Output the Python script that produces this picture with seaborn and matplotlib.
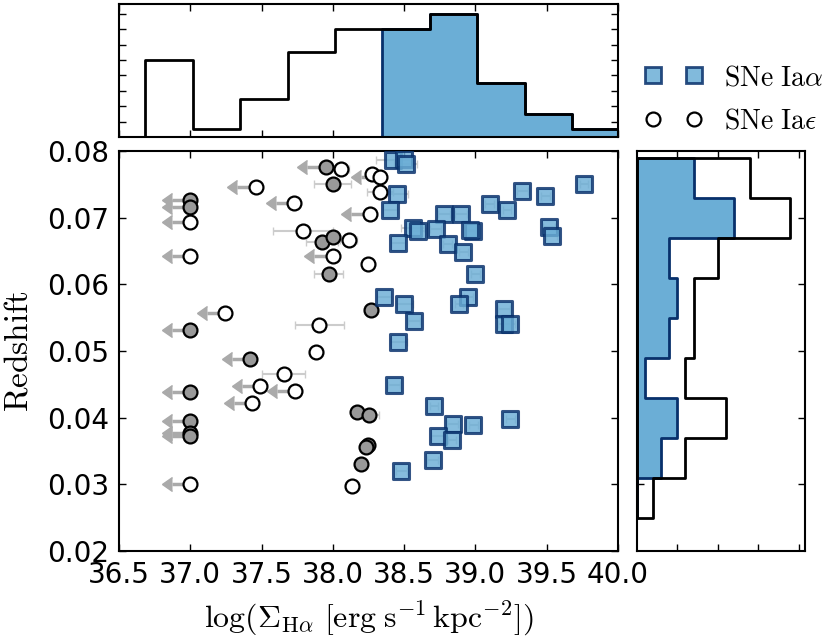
import numpy as np
import pandas as pd
import matplotlib
matplotlib.use("Agg")
import matplotlib.pyplot as plt
from matplotlib.lines import Line2D
from matplotlib.ticker import FormatStrFormatter
import seaborn as sns

# SNe Ia-alpha (squares): log Sigma_Halpha, redshift, x error
alpha_logsig = [38.42, 38.50, 38.51, 38.45, 38.40, 38.78, 38.90, 39.10, 39.22, 39.33,
                39.49, 39.76, 39.515, 39.535, 38.56, 38.60, 38.72, 38.98, 38.96, 38.455,
                38.805, 38.915, 39.00, 38.357, 38.50, 38.57, 38.95, 38.885, 39.20, 39.20,
                39.24, 38.46, 38.43, 38.71, 38.84, 38.985, 38.735, 38.835, 39.245, 38.70,
                38.48]
alpha_z = [0.0786, 0.0788, 0.0781, 0.0735, 0.0711, 0.0705, 0.0705, 0.0720, 0.0712, 0.0740,
           0.0732, 0.0751, 0.0686, 0.0672, 0.0685, 0.0680, 0.0683, 0.0680, 0.0681, 0.0662,
           0.0660, 0.0648, 0.0615, 0.0581, 0.0570, 0.0545, 0.0581, 0.0570, 0.0563, 0.0541,
           0.0541, 0.0513, 0.0449, 0.0417, 0.0390, 0.0389, 0.0373, 0.0367, 0.0398, 0.0336,
           0.0320]
alpha_xerr = [0.12, 0.06, 0.08, 0.08, 0.05, 0.04, 0.04, 0.03, 0.03, 0.04,
              0.03, 0.03, 0.04, 0.04, 0.08, 0.05, 0.04, 0.04, 0.04, 0.05,
              0.03, 0.03, 0.03, 0.05, 0.06, 0.04, 0.03, 0.03, 0.04, 0.04,
              0.04, 0.06, 0.04, 0.03, 0.04, 0.03, 0.05, 0.03, 0.03, 0.04,
              0.04]

# SNe Ia-epsilon (circles)
eps_logsig = [37.95, 38.06, 38.275, 38.33, 38.00, 37.46, 37.00, 37.00, 37.00, 37.73,
              38.26, 38.33, 37.79, 37.925, 38.00, 38.11, 38.00, 37.97, 37.00, 38.245,
              38.265, 37.245, 37.00, 37.905, 37.88, 37.42, 37.655, 37.49, 37.735, 37.435,
              37.00, 37.00, 37.00, 37.00, 37.00, 38.17, 38.255, 38.245, 38.235, 38.195,
              38.135]
eps_z = [0.0776, 0.0773, 0.0766, 0.0761, 0.0750, 0.0746, 0.0727, 0.0716, 0.0693, 0.0722,
         0.0705, 0.0739, 0.0680, 0.0664, 0.0671, 0.0666, 0.0642, 0.0615, 0.0642, 0.0630,
         0.0561, 0.0557, 0.0531, 0.0539, 0.0499, 0.0488, 0.0465, 0.0447, 0.0440, 0.0422,
         0.0439, 0.0395, 0.0377, 0.0373, 0.0301, 0.0408, 0.0404, 0.0359, 0.0356, 0.0330,
         0.0297]
eps_xerr = [0, 0.05, 0, 0, 0.13, 0, 0, 0, 0, 0,
            0, 0.09, 0.21, 0.11, 0.05, 0.06, 0, 0.10, 0, 0,
            0.05, 0, 0, 0.17, 0.05, 0, 0.15, 0, 0, 0,
            0, 0, 0, 0, 0, 0.04, 0.07, 0.03, 0.03, 0.04,
            0.05]
eps_uplim = [1, 0, 0, 1, 0, 1, 1, 1, 1, 1,
             1, 0, 0, 0, 0, 0, 1, 0, 1, 0,
             0, 1, 1, 0, 0, 1, 0, 1, 1, 1,
             1, 1, 1, 1, 1, 0, 0, 0, 0, 0,
             0]
eps_filled = [1, 0, 0, 0, 1, 0, 1, 1, 0, 0,
              0, 0, 0, 1, 1, 0, 0, 1, 0, 0,
              1, 0, 1, 0, 0, 1, 0, 0, 0, 0,
              1, 1, 1, 1, 0, 1, 1, 1, 1, 1,
              0]

sig_bins = np.linspace(36.683, 40.013, 11)
z_bins = np.linspace(0.025, 0.079, 10)

sns.set_style("ticks")
plt.rcParams.update({
    "font.family": ["DejaVu Sans"],
    "mathtext.fontset": "cm",
    "text.color": "k",
    "axes.labelcolor": "k",
    "xtick.color": "k",
    "ytick.color": "k",
    "xtick.direction": "in",
    "ytick.direction": "in",
    "xtick.top": True,
    "ytick.right": True,
    "xtick.major.size": 5,
    "ytick.major.size": 5,
    "xtick.major.width": 1,
    "ytick.major.width": 1,
    "xtick.major.pad": 7,
    "ytick.major.pad": 7,
    "axes.linewidth": 1.5,
    "axes.edgecolor": "k",
    "xtick.labelsize": 20,
    "ytick.labelsize": 20,
})

eps = pd.DataFrame({"logsig": eps_logsig, "z": eps_z, "xerr": eps_xerr,
                    "uplim": np.array(eps_uplim, bool), "filled": np.array(eps_filled, bool)})
alp = pd.DataFrame({"logsig": alpha_logsig, "z": alpha_z, "xerr": alpha_xerr})
all_sig = np.concatenate([alp.logsig.values, eps.logsig.values])
all_z = np.concatenate([alp.z.values, eps.z.values])

blue_face = "#6baed6"
blue_edge = "#08306b"
arrow_gray = "#aaaaaa"

fig = plt.figure(figsize=(8.25, 6.39), dpi=100)
ax = fig.add_axes([119 / 825, 88 / 639, 499 / 825, 400 / 639])
ax_top = fig.add_axes([119 / 825, 502 / 639, 499 / 825, 133 / 639])
ax_right = fig.add_axes([637 / 825, 88 / 639, 168 / 825, 400 / 639])

# main panel
err = eps[(eps.xerr > 0) & ~eps.uplim]
ax.errorbar(err.logsig, err.z, xerr=err.xerr, fmt="none", color="#cccccc",
            ecolor="#cccccc", elinewidth=1.5, capsize=3, zorder=1)
lim = eps[eps.uplim]
ax.errorbar(lim.logsig, lim.z, xerr=0.13, xuplims=True, fmt="none", color=arrow_gray,
            ecolor=arrow_gray, mfc=arrow_gray, mec=arrow_gray,
            elinewidth=2.5, capsize=5, zorder=1)
ax.errorbar(alp.logsig, alp.z, xerr=alp.xerr, fmt="none", color="#cccccc",
            ecolor="#cccccc", elinewidth=1.5, capsize=3, zorder=1)

sns.scatterplot(data=eps[eps.filled], x="logsig", y="z", marker="o", s=100,
                color="#999999", edgecolor="k", linewidth=1.6, zorder=3, ax=ax)
sns.scatterplot(data=eps[~eps.filled], x="logsig", y="z", marker="o", s=100,
                color="white", edgecolor="k", linewidth=1.6, zorder=3, ax=ax)
sns.scatterplot(data=alp, x="logsig", y="z", marker="s", s=130, color=blue_face,
                edgecolor=blue_edge, linewidth=2.2, alpha=0.82, zorder=4, ax=ax)

ax.set_xlim(36.5, 40.0)
ax.set_ylim(0.02, 0.08)
ax.set_xticks(np.arange(36.5, 40.01, 0.5))
ax.set_yticks(np.arange(0.02, 0.0801, 0.01))
ax.xaxis.set_major_formatter(FormatStrFormatter("%.1f"))
ax.yaxis.set_major_formatter(FormatStrFormatter("%.2f"))
ax.set_xlabel(r"$\log(\Sigma_{\rm H\alpha}\ [{\rm erg\;s^{-1}\,kpc^{-2}}])$",
              fontsize=23, labelpad=7)
ax.set_ylabel(r"$\mathrm{Redshift}$", fontsize=24, labelpad=9)

# top histogram
sns.histplot(x=alp.logsig, bins=sig_bins, element="step", fill=True, color=blue_face,
             facecolor=blue_face, edgecolor=blue_edge, linewidth=2, ax=ax_top)
sns.histplot(x=all_sig, bins=sig_bins, element="step", fill=True, color="k",
             facecolor="none", edgecolor="k", linewidth=2, ax=ax_top)
ax_top.set_xlim(36.5, 40.0)
ax_top.set_ylim(0, 17.3)
ax_top.set_xticks(np.arange(36.5, 40.01, 0.5))
ax_top.set_yticks(np.arange(2, 17, 2))
ax_top.tick_params(labelbottom=False, labelleft=False)
ax_top.set_xlabel("")
ax_top.set_ylabel("")

# right histogram
sns.histplot(y=alp.z, bins=z_bins, element="step", fill=True, color=blue_face,
             facecolor=blue_face, edgecolor=blue_edge, linewidth=2, ax=ax_right)
sns.histplot(y=all_z, bins=z_bins, element="step", fill=True, color="k",
             facecolor="none", edgecolor="k", linewidth=2, ax=ax_right)
ax_right.set_ylim(0.02, 0.08)
ax_right.set_xlim(0, 20.8)
ax_right.set_xticks([5, 10, 15, 20])
ax_right.set_yticks(np.arange(0.03, 0.0701, 0.01))
ax_right.tick_params(labelbottom=False, labelleft=False)
ax_right.set_xlabel("")
ax_right.set_ylabel("")

handles = [
    Line2D([], [], ls="none", marker="s", ms=11, mfc=blue_face, mec=blue_edge, mew=2, alpha=0.85),
    Line2D([], [], ls="none", marker="o", ms=10, mfc="white", mec="k", mew=1.6),
]
fig.legend(handles, [r"$\mathrm{SNe\ Ia}\alpha$", r"$\mathrm{SNe\ Ia}\epsilon$"],
           loc="upper left", bbox_to_anchor=(645 / 825, 1 - 63 / 639), frameon=False,
           numpoints=2, fontsize=20, handlelength=2.05, handletextpad=0.8,
           labelspacing=0.55, borderpad=0, borderaxespad=0)

fig.savefig("out.png", dpi=100)
